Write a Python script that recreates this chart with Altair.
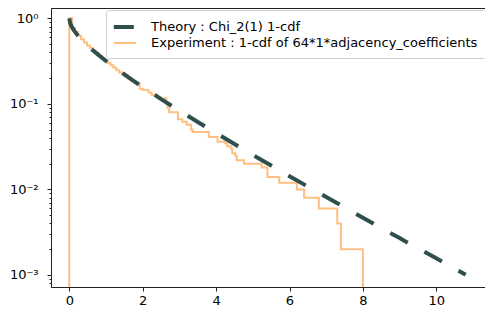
import altair as alt
import pandas as pd

THEORY = "Theory : Chi_2(1) 1-cdf"
EXPER = "Experiment : 1-cdf of 64*1*adjacency_coefficients"

# Theory curve
theory_x = [0, 0.02, 0.05, 0.1, 0.15, 0.2, 0.3, 0.4, 0.5, 0.6, 0.8, 1.0, 1.25, 1.5, 1.75,
            2.0, 2.5, 3.0, 3.5, 4.0, 4.5, 5.0, 5.5, 6.0, 6.5, 7.0, 7.5, 8.0, 8.5, 9.0,
            9.5, 10.0, 10.5, 10.8]
theory_y = [1.0, 0.8875, 0.8231, 0.7518, 0.6985, 0.6547, 0.5839, 0.5271, 0.4795, 0.4386,
            0.3711, 0.3173, 0.2636, 0.2207, 0.1859, 0.1573, 0.1138, 0.0833, 0.0614, 0.0455,
            0.0339, 0.0253, 0.0190, 0.0143, 0.0108, 0.00815, 0.00617, 0.00468, 0.00355,
            0.0027, 0.00205, 0.00157, 0.00119, 0.00101]

# Experiment step curve; 1e-4 = drop to zero (clamped to the axis floor)
exp_x = [0.0, 0.0, 0.08, 0.16, 0.24, 0.32, 0.40, 0.48, 0.56, 0.64, 0.72, 0.80, 0.88, 0.96,
         1.04, 1.12, 1.20, 1.28, 1.36, 1.44, 1.52, 1.60, 1.68, 1.76, 1.84, 1.92, 2.00,
         2.16, 2.24, 2.40, 2.48, 2.64, 2.68, 2.72, 2.96, 3.08, 3.20, 3.32, 3.36, 3.80,
         4.04, 4.24, 4.30, 4.40, 4.44, 4.52, 4.56, 4.76, 5.24, 5.40, 5.72, 6.20, 6.40,
         6.80, 7.30, 7.40, 8.00]
exp_y = [1e-4, 1.0, 0.770, 0.690, 0.625, 0.570, 0.522, 0.482, 0.450, 0.418, 0.392, 0.366,
         0.344, 0.322, 0.300, 0.282, 0.264, 0.248, 0.232, 0.220, 0.208, 0.196, 0.186,
         0.178, 0.172, 0.150, 0.145, 0.136, 0.128, 0.120, 0.116, 0.100, 0.090, 0.080,
         0.066, 0.062, 0.057, 0.050, 0.047, 0.041, 0.036, 0.0346, 0.032, 0.030, 0.0265,
         0.025, 0.022, 0.020, 0.018, 0.014, 0.012, 0.010, 0.008, 0.006, 0.004, 0.002, 1e-4]

x_ticks = [0, 2, 4, 6, 8, 10]
mantissas = [1, 2, 3, 4, 5, 6, 7, 8, 9]
y_ticks = [0.0008, 0.0009] + [round(m * 10 ** k, 6) for k in (-3, -2, -1) for m in mantissas] + [1]

theory_df = pd.DataFrame({"x": theory_x, "y": theory_y, "series": THEORY,
                          "i": list(range(len(theory_x)))})
exp_df = pd.DataFrame({"x": exp_x, "y": exp_y, "series": EXPER,
                       "i": list(range(len(exp_x)))})

FONT = "DejaVu Sans"
x_scale = alt.Scale(domain=[-0.499, 11.327], nice=False, zero=False)
y_scale = alt.Scale(type="log", domain=[7.24e-4, 1.32], nice=False, clamp=True)

major_test = "datum.value == 1 || datum.value == 0.1 || datum.value == 0.01 || datum.value == 0.001"
x_enc = alt.X("x:Q", scale=x_scale, title=None,
              axis=alt.Axis(values=x_ticks, labelFlush=False, labelPadding=3, tickSize=4))
y_enc = alt.Y("y:Q", scale=y_scale, title=None,
              axis=alt.Axis(values=y_ticks, labelFlush=False, labelOverlap=False,
                            labelPadding=9,
                            tickSize={"condition": {"test": major_test, "value": 4}, "value": 2},
                            labelExpr="datum.value == 1 ? '10⁰' : datum.value == 0.1 ? '10⁻¹' : "
                                      "datum.value == 0.01 ? '10⁻²' : datum.value == 0.001 ? '10⁻³' : ''"))

dom = [THEORY, EXPER]
color = alt.Color("series:N", scale=alt.Scale(domain=dom, range=["#2f4f4f", "#ffbf80"]),
                  legend=alt.Legend(title=None))
dash = alt.StrokeDash("series:N", scale=alt.Scale(domain=dom, range=[[20, 19], [1, 0]]),
                      legend=alt.Legend(title=None))
width_enc = alt.StrokeWidth("series:N", scale=alt.Scale(domain=dom, range=[4, 2]),
                            legend=alt.Legend(title=None))

exp_layer = alt.Chart(exp_df).mark_line(interpolate="step-after", strokeCap="butt").encode(
    x=x_enc, y=y_enc, color=color, strokeDash=dash, strokeWidth=width_enc, order="i:Q")
theory_layer = alt.Chart(theory_df).mark_line(strokeCap="butt").encode(
    x=x_enc, y=y_enc, color=color, strokeDash=dash, strokeWidth=width_enc, order="i:Q")

chart = alt.layer(exp_layer, theory_layer).properties(
    width=434, height=279, autosize=alt.AutoSizeParams(type="none"),
    padding={"left": 43, "top": 0, "right": 0, "bottom": 20},
    background="white",
).configure_view(stroke="#222222", strokeWidth=1).configure_axis(
    grid=False, domainColor="#222222", tickColor="#222222", labelColor="black",
    labelFont=FONT, labelFontSize=13, domainWidth=1, tickWidth=1,
).configure_legend(
    orient="none", legendX=55, legendY=2, symbolType="M-1.6,0H1.6", symbolSize=196,
    labelFont=FONT, labelFontSize=13, labelColor="black", labelLimit=600,
    fillColor="white", strokeColor="#d0d0d0", cornerRadius=3, padding=8,
    rowPadding=0, labelOffset=17, symbolOffset=2,
)

chart.save("out.html", embed_options={"renderer": "svg", "actions": False})
